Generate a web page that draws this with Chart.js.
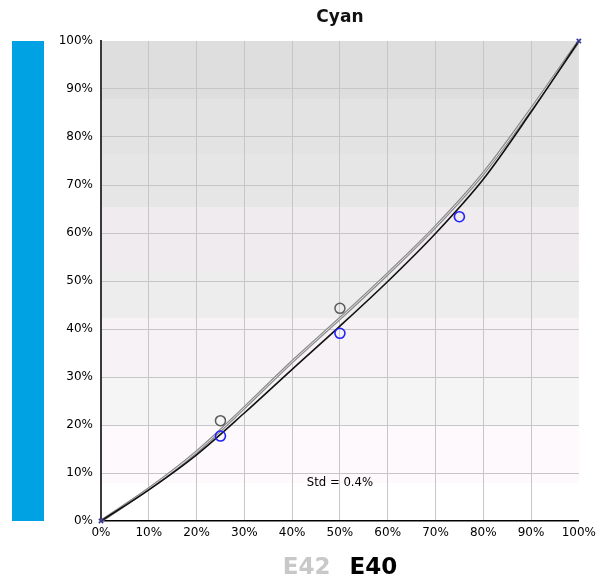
<!DOCTYPE html>
<html><head><meta charset="utf-8">
<script src="https://cdn.jsdelivr.net/npm/chart.js@4/dist/chart.umd.min.js"></script>
<style>html,body{margin:0;padding:0;background:#fff;}</style>
</head><body>
<canvas id="c" width="601" height="580"></canvas>
<script>
const chartTitle = 'Cyan';
const seriesNames = ['E42', 'E40'];
const seriesColors = ['#c8c8c8', '#000000'];
const curveInput = [0, 10, 20, 30, 40, 50, 60, 70, 80, 90, 100];
const curveE42 = [0, 6.7, 14.4, 23.6, 33.2, 42.2, 51.5, 61.3, 72.4, 85.8, 100];
const curveE40 = [0, 6.5, 13.8, 22.5, 31.6, 40.6, 49.9, 59.9, 71.2, 85.2, 100];
const pointsInputE42 = [25, 50];
const pointsE42 = [20.9, 44.3];
const pointsInputE40 = [0, 25, 50, 75, 100];
const pointsE40 = [0, 17.7, 39.1, 63.4, 100];
const tickValues = [0, 10, 20, 30, 40, 50, 60, 70, 80, 90, 100];
const bandStops = [0, 8, 20, 30, 42.3, 52, 65.4, 76.5, 88, 100];
const bandColors = ['#ffffff', '#fdf9fd', '#f5f5f5', '#f6f2f5', '#ededed', '#efebee', '#e6e6e6', '#e3e3e4', '#dedede'];
const stdText = 'Std = 0.4%';
const stdPos = [50, 7.9];

const pairs = (xs, ys) => xs.map((v, i) => ({x: v, y: ys[i]}));

const decor = {
  id: 'decor',
  beforeDraw(chart) {
    const {ctx, chartArea: a, scales: {y}} = chart;
    ctx.save();
    for (let i = 0; i < bandColors.length; i++) {
      const y0 = Math.round(y.getPixelForValue(bandStops[i]));
      const y1 = Math.round(y.getPixelForValue(bandStops[i + 1]));
      ctx.fillStyle = bandColors[i];
      ctx.fillRect(a.left, y1, a.right - a.left, y0 - y1);
    }
    ctx.fillStyle = '#00a2e4';
    ctx.fillRect(12, a.top, 32, a.bottom - a.top);
    ctx.restore();
  },
  afterDraw(chart) {
    const {ctx, chartArea: a, scales: {x, y}} = chart;
    const cx = (a.left + a.right) / 2;
    ctx.save();
    ctx.textBaseline = 'middle';
    ctx.textAlign = 'center';
    ctx.fillStyle = '#111';
    ctx.font = 'bold 17px "DejaVu Sans"';
    ctx.fillText(chartTitle, cx, 18);
    ctx.font = '11.7px "DejaVu Sans"';
    ctx.fillStyle = '#000';
    ctx.fillText(stdText, x.getPixelForValue(stdPos[0]), y.getPixelForValue(stdPos[1]));
    ctx.font = 'bold 23px "DejaVu Sans"';
    const gap = 19;
    const widths = seriesNames.map(s => ctx.measureText(s).width);
    const total = widths.reduce((s, w) => s + w, 0) + gap * (seriesNames.length - 1);
    let lx = cx - total / 2;
    ctx.textAlign = 'left';
    seriesNames.forEach((s, i) => {
      ctx.fillStyle = seriesColors[i];
      ctx.fillText(s, lx, 568);
      lx += widths[i] + gap;
    });
    ctx.restore();
  }
};

const gridColor = c => (c.tick && (c.tick.value === 0 || c.tick.value === 100)) ? 'rgba(0,0,0,0)' : '#c6c6c6';
const tickFont = {family: '"DejaVu Sans"', size: 12};

new Chart(document.getElementById('c'), {
  type: 'scatter',
  data: {
    datasets: [
      {label: seriesNames[1] + ' points', data: pairs(pointsInputE40, pointsE40), showLine: false,
       pointStyle: ctx => (ctx.dataIndex === 0 || ctx.dataIndex === pointsE40.length - 1) ? 'crossRot' : 'circle',
       pointRadius: ctx => (ctx.dataIndex === 0 || ctx.dataIndex === pointsE40.length - 1) ? 3 : 5,
       borderColor: ctx => (ctx.dataIndex === 0 || ctx.dataIndex === pointsE40.length - 1) ? '#3a3a9a' : '#2222ff',
       backgroundColor: 'rgba(0,0,0,0)', pointBorderWidth: 1.6, clip: false},
      {label: seriesNames[0] + ' points', data: pairs(pointsInputE42, pointsE42), showLine: false,
       pointStyle: 'circle', pointRadius: 5, borderColor: '#5a5a5a', backgroundColor: 'rgba(0,0,0,0)', pointBorderWidth: 1.5},
      {label: seriesNames[1], data: pairs(curveInput, curveE40), showLine: true, borderColor: '#111', borderWidth: 1.6,
       pointRadius: 0, cubicInterpolationMode: 'monotone'},
      {label: seriesNames[0] + ' inner', data: pairs(curveInput, curveE42), showLine: true, borderColor: '#e2e2e2', borderWidth: 1,
       pointRadius: 0, cubicInterpolationMode: 'monotone'},
      {label: seriesNames[0], data: pairs(curveInput, curveE42), showLine: true, borderColor: '#8a8a8a', borderWidth: 3,
       pointRadius: 0, cubicInterpolationMode: 'monotone'}
    ]
  },
  options: {
    responsive: false,
    animation: false,
    devicePixelRatio: 1,
    layout: {padding: {left: 0, top: 41, right: 21, bottom: 0}},
    plugins: {legend: {display: false}, tooltip: {enabled: false}, title: {display: false}},
    scales: {
      x: {
        type: 'linear', min: 0, max: 100,
        afterFit: s => { s.height = 59; },
        afterBuildTicks: s => { s.ticks = tickValues.map(v => ({value: v})); },
        ticks: {callback: v => v + '%', font: tickFont, color: '#000', padding: 5, maxRotation: 0, autoSkip: false},
        grid: {color: gridColor, lineWidth: 1, drawTicks: false},
        border: {color: '#000', width: 1.5}
      },
      y: {
        type: 'linear', min: 0, max: 100,
        afterFit: s => { s.width = 101; },
        afterBuildTicks: s => { s.ticks = tickValues.map(v => ({value: v})); },
        ticks: {callback: v => v + '%', font: tickFont, color: '#000', padding: 8, autoSkip: false},
        grid: {color: gridColor, lineWidth: 1, drawTicks: false},
        border: {color: '#3a3a3a', width: 2}
      }
    }
  },
  plugins: [decor]
});
</script>
</body></html>
